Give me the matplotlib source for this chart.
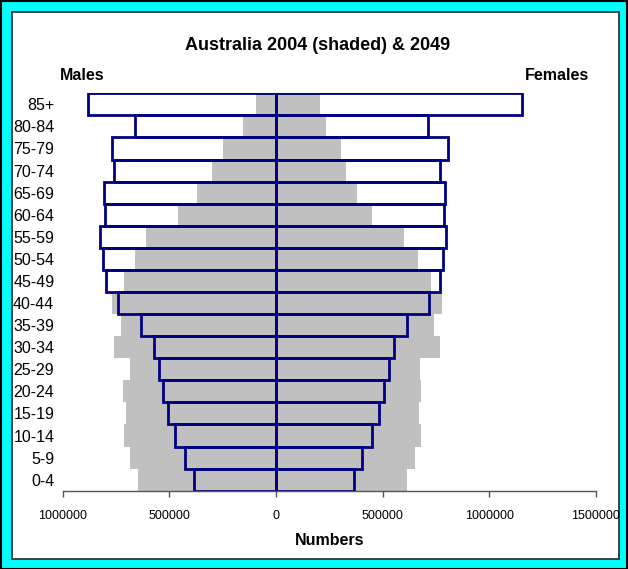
import matplotlib
matplotlib.use('Agg')
import matplotlib.pyplot as plt
from matplotlib.patches import Rectangle
import numpy as np

# age groups, youngest at the bottom
ages = ['0-4', '5-9', '10-14', '15-19', '20-24', '25-29', '30-34', '35-39', '40-44',
        '45-49', '50-54', '55-59', '60-64', '65-69', '70-74', '75-79', '80-84', '85+']

males_2004 = [647000, 684000, 711000, 703000, 716000, 684000, 759000, 727000, 767000,
              712000, 661000, 609000, 459000, 370000, 300000, 248000, 153000, 94000]
females_2004 = [614000, 652000, 680000, 670000, 680000, 675000, 769000, 741000, 778000,
                727000, 666000, 600000, 450000, 380000, 328000, 305000, 234000, 206000]
males_2049 = [384000, 427000, 473000, 508000, 531000, 547000, 570000, 631000, 742000,
              797000, 812000, 825000, 800000, 805000, 758000, 770000, 661000, 880000]
females_2049 = [364000, 405000, 448000, 483000, 508000, 530000, 555000, 612000, 717000,
                769000, 781000, 798000, 786000, 792000, 767000, 805000, 711000, 1155000]

xticks = [-1000000, -500000, 0, 500000, 1000000, 1500000]
xticklabels = ['1000000', '500000', '0', '500000', '1000000', '1500000']

plt.rcParams['font.family'] = ['Liberation Sans', 'DejaVu Sans']

fig = plt.figure(figsize=(6.28, 5.69), dpi=100)
W, H = 628, 569

# cyan frame with a white panel inside
fig.patches.append(Rectangle((0.5 / W, 0.5 / H), 1 - 1.5 / W, 1 - 1.5 / H,
                             transform=fig.transFigure, facecolor='#00FFFF',
                             edgecolor='black', linewidth=1.5, zorder=-10))
fig.patches.append(Rectangle((12 / W, 10 / H), 607 / W, 547 / H,
                             transform=fig.transFigure, facecolor='white',
                             edgecolor='#333333', linewidth=1.3, zorder=-9))

ax = fig.add_axes([62.7 / W, 1 - 490.7 / H, (596 - 62.7) / W, (490.7 - 93.3) / H])
ax.set_facecolor('none')

y = np.arange(len(ages))
m04 = -np.array(males_2004)
m49 = -np.array(males_2049)
f04 = np.array(females_2004)
f49 = np.array(females_2049)

# white fill for 2049, grey 2004 on top, then the 2049 outline over everything
ax.barh(y, m49, height=1.0, color='white', edgecolor='none', zorder=1)
ax.barh(y, f49, height=1.0, color='white', edgecolor='none', zorder=1)
ax.barh(y, m04, height=1.0, color='#C0C0C0', edgecolor='none', zorder=2)
ax.barh(y, f04, height=1.0, color='#C0C0C0', edgecolor='none', zorder=2)
ax.barh(y, m49, height=1.0, fill=False, edgecolor='#000080', linewidth=2.0, zorder=3)
ax.barh(y, f49, height=1.0, fill=False, edgecolor='#000080', linewidth=2.0, zorder=3)

ax.set_xlim(-1000000, 1500000)
ax.set_ylim(-0.5, len(ages) - 0.5)

ax.set_xticks(xticks)
ax.set_xticklabels(xticklabels, fontsize=9)
ax.set_yticks(y)
ax.set_yticklabels(ages, fontsize=11.5)
ax.tick_params(axis='y', length=0, pad=6)
ax.tick_params(axis='x', length=4, width=1, color='#555555', pad=10, direction='out')

for s in ['left', 'right', 'top']:
    ax.spines[s].set_visible(False)
ax.spines['bottom'].set_color('#555555')
ax.spines['bottom'].set_linewidth(1)
ax.spines['bottom'].set_zorder(4)

ax.set_xlabel('Numbers', fontsize=11.5, fontweight='bold', labelpad=8)

fig.text(318 / W, 1 - 45 / H, 'Australia 2004 (shaded) & 2049', ha='center', va='center',
         fontsize=13, fontweight='bold')
fig.text(82.5 / W, 1 - 76 / H, 'Males', ha='center', va='center', fontsize=11.5, fontweight='bold')
fig.text(557 / W, 1 - 76 / H, 'Females', ha='center', va='center', fontsize=11.5, fontweight='bold')

fig.savefig('out.png', dpi=100)
